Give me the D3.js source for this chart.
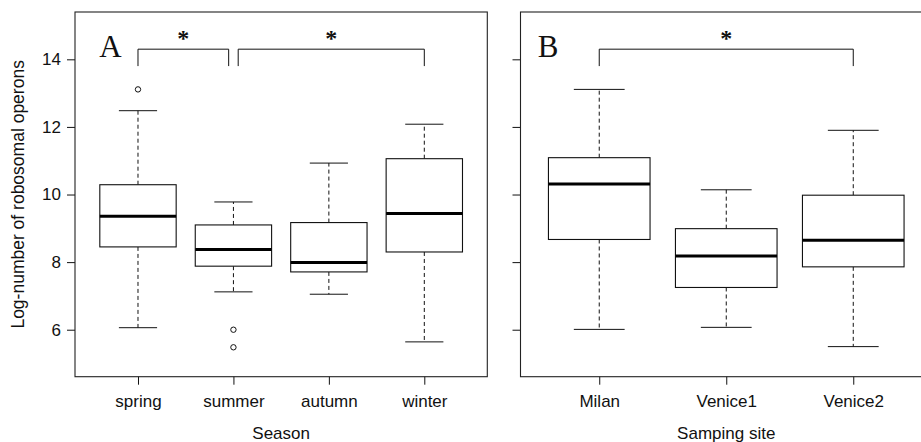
<!DOCTYPE html>
<html>
<head>
<meta charset="utf-8">
<script src="https://cdn.jsdelivr.net/npm/d3@7"></script>
<style>
  html, body { margin: 0; padding: 0; background: #fff; }
  svg { display: block; }
  text { font-family: "Liberation Sans", Arial, sans-serif; fill: #111; }
</style>
</head>
<body>
<svg id="chart" width="921" height="442"></svg>
<script>
// Panel A: log-number of ribosomal operons by season
const seasons = ["spring", "summer", "autumn", "winter"];
const seasonLowWhisker = [6.06, 7.12, 7.05, 5.64];
const seasonQ1 = [8.45, 7.88, 7.71, 8.30];
const seasonMedian = [9.36, 8.37, 7.99, 9.44];
const seasonQ3 = [10.29, 9.10, 9.17, 11.06];
const seasonHighWhisker = [12.48, 9.78, 10.93, 12.08];
const seasonOutliers = [[13.11], [6.00, 5.48], [], []];

// Panel B: same measure by sampling site
const sites = ["Milan", "Venice1", "Venice2"];
const siteLowWhisker = [6.01, 6.07, 5.50];
const siteQ1 = [8.67, 7.25, 7.86];
const siteMedian = [10.31, 8.18, 8.65];
const siteQ3 = [11.09, 8.99, 9.98];
const siteHighWhisker = [13.11, 10.14, 11.90];
const siteOutliers = [[], [], []];

const yTicks = [6, 8, 10, 12, 14];
const yDomain = [4.61, 15.40];

// Significance brackets: pairs of group positions joined by a bar
const seasonBrackets = [[1, 1.95], [2.05, 4]];
const siteBrackets = [[1, 3]];
const bracketTop = 14.30;
const bracketBottom = 13.80;
const starLevel = 14.70;

const svg = d3.select("#chart");
const plotTop = 12, plotBottom = 376.7;
const y = d3.scaleLinear().domain(yDomain).range([plotBottom, plotTop]);

function drawPanel(opts) {
  const { names, lo, q1, med, q3, hi, outl, xRange, xDomain, letter, letterX, title, brackets, showYLabels } = opts;
  const x = d3.scaleLinear().domain(xDomain).range(xRange);
  const g = svg.append("g");
  const unit = x(1) - x(0);
  const boxHalf = 0.4 * unit;
  const capHalf = 0.2 * unit;

  // Y axis
  const yAxis = d3.axisLeft(y).tickValues(yTicks).tickSize(8).tickPadding(6)
    .tickFormat(showYLabels ? d3.format("d") : () => "");
  const ya = g.append("g").attr("transform", `translate(${xRange[0]},0)`).call(yAxis);
  ya.select(".domain").remove();
  ya.selectAll("line").attr("stroke", "#111");
  ya.selectAll("text").style("font-size", "17px").attr("fill", "#111")
    .style("font-family", "'Liberation Sans', Arial, sans-serif");

  // X axis
  const xAxis = d3.axisBottom(x).tickValues(d3.range(1, names.length + 1))
    .tickSize(8).tickPadding(10).tickFormat(i => names[i - 1]);
  const xa = g.append("g").attr("transform", `translate(0,${plotBottom})`).call(xAxis);
  xa.select(".domain").remove();
  xa.selectAll("line").attr("stroke", "#111");
  xa.selectAll("text").style("font-size", "17px").attr("fill", "#111")
    .style("font-family", "'Liberation Sans', Arial, sans-serif");

  // Frame
  g.append("rect")
    .attr("x", xRange[0]).attr("y", plotTop)
    .attr("width", xRange[1] - xRange[0]).attr("height", plotBottom - plotTop)
    .attr("fill", "none").attr("stroke", "#222").attr("stroke-width", 1.1);

  const idx = d3.range(names.length);
  const box = g.selectAll("g.box").data(idx).join("g").attr("class", "box");

  // Whiskers (dashed)
  box.append("line")
    .attr("x1", i => x(i + 1)).attr("x2", i => x(i + 1))
    .attr("y1", i => y(q3[i])).attr("y2", i => y(hi[i]))
    .attr("stroke", "#111").attr("stroke-dasharray", "4,3");
  box.append("line")
    .attr("x1", i => x(i + 1)).attr("x2", i => x(i + 1))
    .attr("y1", i => y(q1[i])).attr("y2", i => y(lo[i]))
    .attr("stroke", "#111").attr("stroke-dasharray", "4,3");
  // Staples
  box.append("line")
    .attr("x1", i => x(i + 1) - capHalf).attr("x2", i => x(i + 1) + capHalf)
    .attr("y1", i => y(hi[i])).attr("y2", i => y(hi[i]))
    .attr("stroke", "#111");
  box.append("line")
    .attr("x1", i => x(i + 1) - capHalf).attr("x2", i => x(i + 1) + capHalf)
    .attr("y1", i => y(lo[i])).attr("y2", i => y(lo[i]))
    .attr("stroke", "#111");
  // Box
  box.append("rect")
    .attr("x", i => x(i + 1) - boxHalf).attr("width", 2 * boxHalf)
    .attr("y", i => y(q3[i])).attr("height", i => y(q1[i]) - y(q3[i]))
    .attr("fill", "#fff").attr("stroke", "#111").attr("stroke-width", 1.1);
  // Median
  box.append("line")
    .attr("x1", i => x(i + 1) - boxHalf).attr("x2", i => x(i + 1) + boxHalf)
    .attr("y1", i => y(med[i])).attr("y2", i => y(med[i]))
    .attr("stroke", "#000").attr("stroke-width", 3);
  // Outliers
  box.selectAll("circle").data(i => outl[i].map(v => ({ i, v }))).join("circle")
    .attr("cx", d => x(d.i + 1)).attr("cy", d => y(d.v)).attr("r", 2.7)
    .attr("fill", "none").attr("stroke", "#111").attr("stroke-width", 1);

  // Significance brackets
  brackets.forEach(([a, b]) => {
    g.append("path")
      .attr("d", `M${x(a)},${y(bracketBottom)}V${y(bracketTop)}H${x(b)}V${y(bracketBottom)}`)
      .attr("fill", "none").attr("stroke", "#111").attr("stroke-width", 1);
    g.append("text")
      .attr("x", x((a + b) / 2)).attr("y", y(starLevel) + 10)
      .attr("text-anchor", "middle")
      .style("font-family", "'Liberation Serif', 'Times New Roman', serif")
      .style("font-weight", "bold").style("font-size", "24px")
      .text("*");
  });

  // Panel letter
  g.append("text")
    .attr("x", x(letterX)).attr("y", 56.5)
    .style("font-family", "'Liberation Serif', 'Times New Roman', serif")
    .style("font-size", "31px")
    .text(letter);

  // Axis title
  g.append("text")
    .attr("x", (x(0.5) + x(names.length + 0.5)) / 2).attr("y", 439)
    .attr("text-anchor", "middle").style("font-size", "17px")
    .text(title);
}

drawPanel({
  names: seasons, lo: seasonLowWhisker, q1: seasonQ1, med: seasonMedian,
  q3: seasonQ3, hi: seasonHighWhisker, outl: seasonOutliers,
  xRange: [75, 487.3], xDomain: [0.34, 4.66], letter: "A", letterX: 0.595, title: "Season",
  brackets: seasonBrackets, showYLabels: true
});

drawPanel({
  names: sites, lo: siteLowWhisker, q1: siteQ1, med: siteMedian,
  q3: siteQ3, hi: siteHighWhisker, outl: siteOutliers,
  xRange: [520.5, 932], xDomain: [0.38, 3.62], letter: "B", letterX: 0.515, title: "Samping site",
  brackets: siteBrackets, showYLabels: false
});

// Shared y-axis title
svg.append("text")
  .attr("transform", `translate(24,${(plotTop + plotBottom) / 2}) rotate(-90)`)
  .attr("text-anchor", "middle").style("font-size", "17.5px")
  .text("Log-number of robosomal operons");
</script>
</body>
</html>
